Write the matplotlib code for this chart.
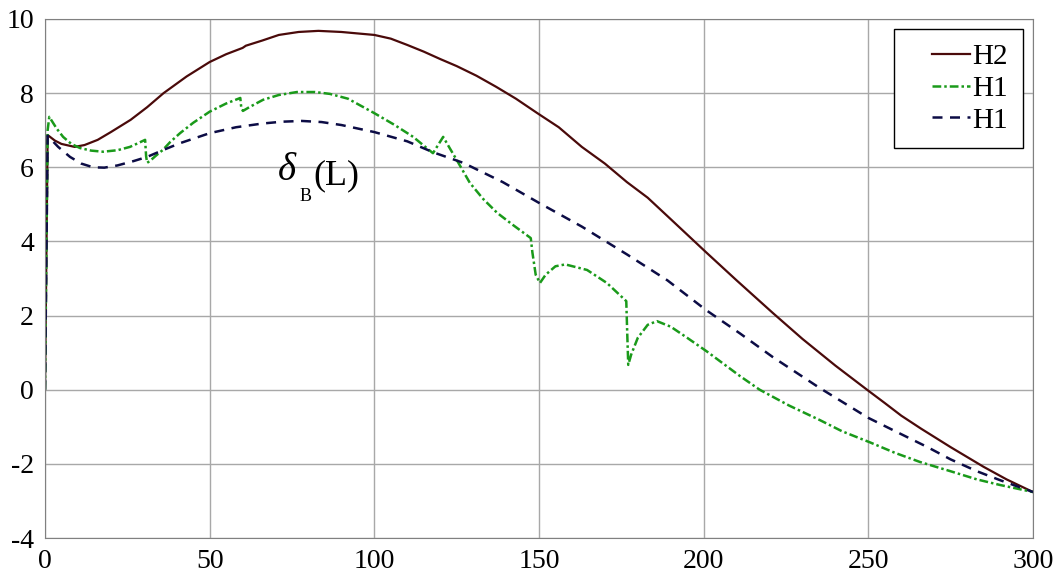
import numpy as np
import matplotlib.pyplot as plt
from matplotlib.legend_handler import HandlerLine2D

# H2 (solid, dark red)
h2_x = [0, 0.8, 3, 5, 9, 12, 16, 20, 26, 31, 36, 43, 50, 55, 60, 61, 66, 71, 77, 83,
        90, 100, 105, 110, 115, 120, 125, 131, 137, 143, 149.5, 156, 163, 170, 176.7,
        183, 190, 200.7, 210, 221, 230, 240, 249.6, 255, 260, 266, 275, 285, 292, 300]
h2_y = [0, 6.87, 6.72, 6.63, 6.55, 6.6, 6.74, 6.95, 7.28, 7.62, 8.0, 8.45, 8.84, 9.05,
        9.22, 9.28, 9.42, 9.57, 9.65, 9.68, 9.65, 9.57, 9.47, 9.3, 9.12, 8.92, 8.73,
        8.47, 8.17, 7.85, 7.46, 7.08, 6.55, 6.1, 5.6, 5.18, 4.6, 3.71, 2.95, 2.07, 1.37,
        0.65, 0.0, -0.36, -0.70, -1.05, -1.55, -2.08, -2.42, -2.76]

# H1 (dash-dot, green)
g_x = [0, 0.8, 1.3, 3.5, 5.5, 8, 10.6, 14, 17.6, 22, 25.8, 28, 30.4, 30.7, 31.0, 32,
       33.5, 35.8, 38, 41, 45, 50, 55, 59.3, 59.6, 60.1, 62, 66.2, 71, 76.5, 82, 86.5,
       92, 100, 106, 111.8, 117.8, 120.9, 123, 125, 129, 133, 137.3, 142, 147.5, 148,
       149, 150.3, 152, 155, 158, 164.6, 170.6, 176.5, 176.8, 177.1, 178, 180, 183,
       185.8, 190, 195, 201, 211, 217, 226, 235.3, 242, 250.5, 258, 265.7, 275, 283,
       290, 300]
g_y = [0, 7.0, 7.36, 7.05, 6.82, 6.63, 6.52, 6.45, 6.42, 6.46, 6.55, 6.64, 6.74, 6.3,
       6.12, 6.18, 6.3, 6.47, 6.68, 6.92, 7.2, 7.5, 7.72, 7.87, 7.6, 7.52, 7.62, 7.82,
       7.95, 8.03, 8.03, 7.98, 7.85, 7.46, 7.15, 6.82, 6.38, 6.82, 6.5, 6.2, 5.58, 5.15,
       4.77, 4.45, 4.09, 3.7, 3.1, 2.88, 3.1, 3.33, 3.38, 3.23, 2.88, 2.39, 1.5, 0.67,
       0.95, 1.4, 1.75, 1.85, 1.7, 1.4, 1.03, 0.37, 0.0, -0.43, -0.82, -1.12, -1.42,
       -1.7, -1.95, -2.2, -2.42, -2.57, -2.76]

# H1 (dashed, navy)
n_x = [0, 0.8, 4, 7.6, 11, 14.6, 18, 22, 27, 31, 36, 41, 50, 58, 66, 72, 78, 84, 90,
       100, 110, 118, 127, 139, 150, 163, 176.7, 189, 200.7, 211, 221, 235, 250, 260,
       268, 275, 283, 290, 300]
n_y = [0, 6.85, 6.55, 6.28, 6.1, 6.0, 5.99, 6.05, 6.17, 6.28, 6.47, 6.65, 6.92, 7.08,
       7.18, 7.23, 7.25, 7.22, 7.14, 6.95, 6.7, 6.4, 6.12, 5.6, 5.04, 4.4, 3.65, 2.95,
       2.15, 1.52, 0.88, 0.06, -0.76, -1.2, -1.55, -1.88, -2.2, -2.44, -2.76]

plt.rcParams['font.family'] = ['Liberation Serif', 'DejaVu Serif']
plt.rcParams['axes.unicode_minus'] = False

fig = plt.figure(figsize=(10.64, 5.81), dpi=100)
ax = fig.add_axes([45 / 1064, 1 - 538 / 581, 988 / 1064, 519 / 581])

ax.plot(h2_x, h2_y, color='#4a0a0a', lw=1.6, label='H2')
ax.plot(g_x, g_y, color='#1a9a1a', lw=1.8, dashes=(3.5, 1.2, 1.0, 1.2), label='H1')
ax.plot(n_x, n_y, color='#0c0c45', lw=1.8, dashes=(4, 3), label='H1')

ax.set_xlim(0, 300)
ax.set_ylim(-4, 10)
ax.set_xticks(np.arange(0, 301, 50))
ax.set_yticks(np.arange(-4, 11, 2))
ax.grid(True, color='#a8a8a8', lw=1)
ax.tick_params(length=0, labelsize=20, pad=8)
for s in ax.spines.values():
    s.set_color('#808080')

# annotation delta_B(L)
ax.text(73.5, 5.92, '\u03b4', fontsize=28, style='italic', ha='center', va='center')
ax.text(79.0, 5.22, '\u0412', fontsize=13, ha='center', va='center')
ax.text(88.5, 5.78, '(L)', fontsize=26, ha='center', va='center')

hmap = {ln: HandlerLine2D(xpad=0.8) for ln in ax.get_lines()}
leg = ax.legend(loc='upper right', fontsize=21, handlelength=2.1, handletextpad=0.1,
                borderaxespad=0.35, fancybox=False, framealpha=1, labelspacing=0.18,
                borderpad=0.5, handler_map=hmap)
leg.get_frame().set_edgecolor('black')
leg.get_frame().set_linewidth(1)

fig.savefig('out.png', dpi=100)
